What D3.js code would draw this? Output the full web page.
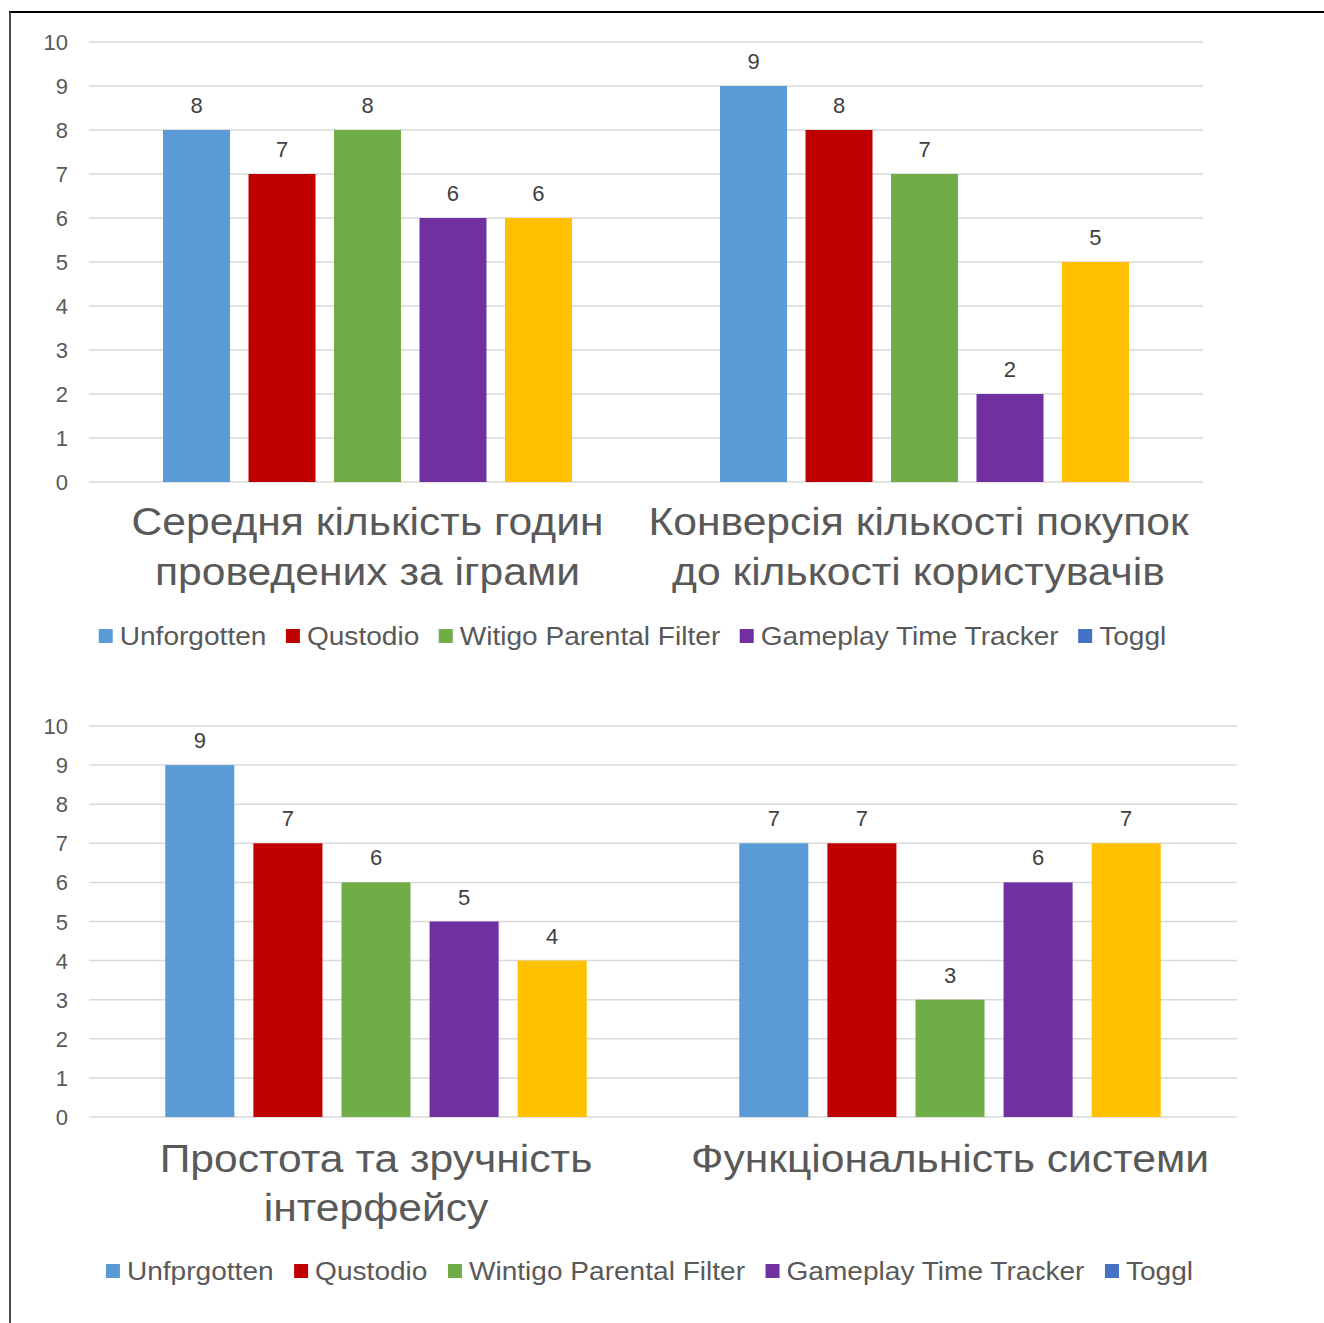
<!DOCTYPE html>
<html><head><meta charset="utf-8">
<script src="https://cdn.jsdelivr.net/npm/d3@7"></script>
<style>body{margin:0;background:#fff}svg{display:block}</style>
</head><body>
<script>
// ---- data ----
const series1 = ["Unforgotten","Qustodio","Witigo Parental Filter","Gameplay Time Tracker","Toggl"];
const series2 = ["Unfprgotten","Qustodio","Wintigo Parental Filter","Gameplay Time Tracker","Toggl"];
const barColors = ["#5B9BD5","#C00000","#70AD47","#7030A0","#FFC000"];
const legendColors = ["#5B9BD5","#C00000","#70AD47","#7030A0","#4472C4"];
const categories1 = [["Середня кількість годин","проведених за іграми"],["Конверсія кількості покупок","до кількості користувачів"]];
const categories2 = [["Простота та зручність","інтерфейсу"],["Функціональність системи"]];
const values1 = [[8,7,8,6,6],[9,8,7,2,5]];
const values2 = [[9,7,6,5,4],[7,7,3,6,7]];
const yTicks = [0,1,2,3,4,5,6,7,8,9,10];

const W=1324,H=1323, FONT="'Liberation Sans', Arial, sans-serif";
const LSX=1.08, CSX=1.122;
const svg=d3.select("body").append("svg").attr("width",W).attr("height",H);

function txt(g,x,y,s,size,sx,color,anchor){
  return g.append("text").attr("transform",`translate(${x},${y}) scale(${sx},1)`)
    .attr("font-family",FONT).attr("font-size",size).attr("fill",color)
    .attr("text-anchor",anchor||"middle").text(s);
}

function chart(cfg){
  const g=svg.append("g");
  const y=d3.scaleLinear().domain([0,10]).range([cfg.y0,cfg.y10]);
  const cats=cfg.categories.map((c,i)=>i);
  const x0=d3.scaleBand().domain(cats).range([cfg.left,cfg.right]).padding(0);
  const cw=x0.bandwidth(), outer=cw*0.1329;
  const x1=d3.scaleBand().domain(d3.range(5)).range([outer,cw-outer]).paddingInner(0.2164).paddingOuter(0);
  g.selectAll(".grid").data(yTicks).join("line")
    .attr("x1",cfg.left).attr("x2",cfg.right).attr("y1",d=>y(d)).attr("y2",d=>y(d))
    .attr("stroke","#D9D9D9").attr("stroke-width",1.5);
  yTicks.forEach(t=>txt(g,68,y(t)+8,String(t),22,1,"#595959","end"));
  cfg.values.forEach((vals,ci)=>{
    vals.forEach((v,si)=>{
      const bx=x0(ci)+x1(si);
      g.append("rect").attr("x",bx).attr("y",y(v)).attr("width",x1.bandwidth()).attr("height",y(0)-y(v)).attr("fill",barColors[si]);
      txt(g,bx+x1.bandwidth()/2,y(v)-17,String(v),22,1,"#404040");
    });
    cfg.categories[ci].forEach((line,li)=>txt(g,x0(ci)+cw/2+cfg.catShift[ci],cfg.catY+li*cfg.catLH,line,38,CSX,"#595959"));
  });
  const lg=g.append("g");
  const items=[];let xx=0;
  cfg.series.forEach((s,i)=>{
    const t=txt(lg,0,0,s,26,LSX,"#595959","start");
    const w=t.node().getComputedTextLength()*LSX;
    items.push({t,w,x:xx});
    xx+=14+7+w+(i<cfg.series.length-1?cfg.legGap:0);
  });
  const start=cfg.legCenter-xx/2;
  items.forEach((it,i)=>{
    lg.append("rect").attr("x",start+it.x).attr("y",cfg.legY-7).attr("width",14).attr("height",14).attr("fill",legendColors[i]);
    it.t.attr("transform",`translate(${start+it.x+21},${cfg.legY+9}) scale(${LSX},1)`);
  });
}

chart({left:89,right:1203,y0:482,y10:42,categories:categories1,values:values1,series:series1,catY:535,catLH:50,catShift:[0,-6],legY:636,legGap:19.5,legCenter:632.5});
chart({left:89,right:1237,y0:1117,y10:726,categories:categories2,values:values2,series:series2,catY:1172,catLH:49,catShift:[0,0],legY:1271,legGap:20.5,legCenter:649.5});

svg.append("line").attr("x1",9).attr("x2",W).attr("y1",12).attr("y2",12).attr("stroke","#000").attr("stroke-width",2);
svg.append("line").attr("x1",10).attr("x2",10).attr("y1",12).attr("y2",H).attr("stroke","#3a3a3a").attr("stroke-width",1.8);
</script>
</body></html>
